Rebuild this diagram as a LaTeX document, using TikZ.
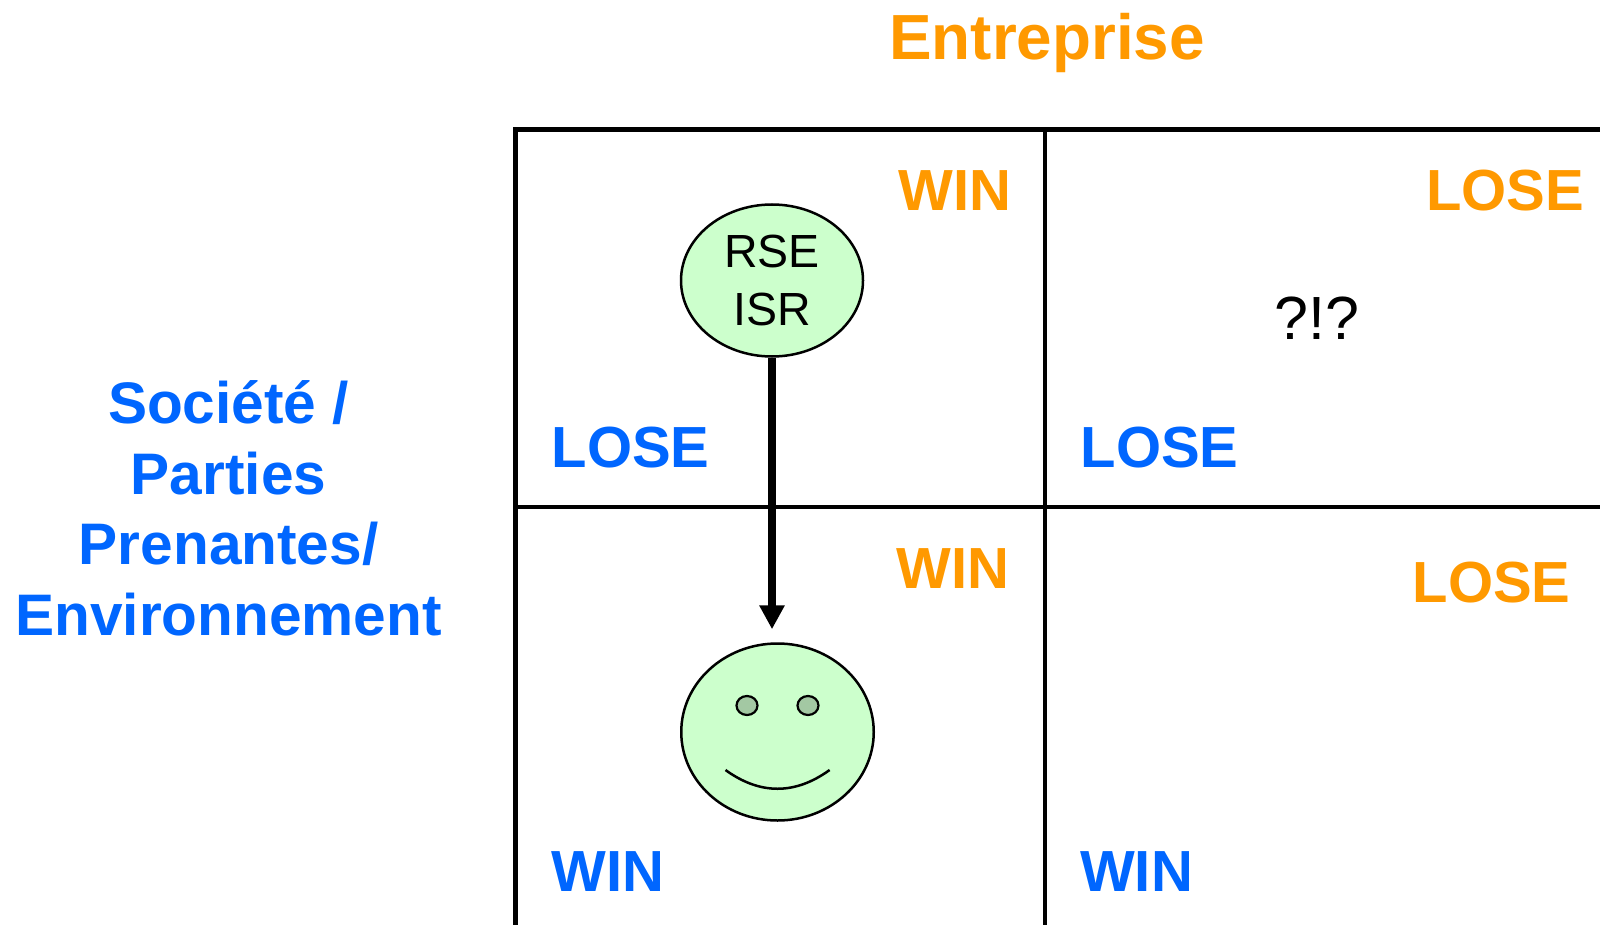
\documentclass[tikz,border=0pt]{standalone}
\usepackage{fontspec}
\setmainfont{Liberation Sans}
\usetikzlibrary{arrows.meta,shapes.geometric}
\definecolor{firmorange}{HTML}{FF9900}
\definecolor{socblue}{HTML}{0066FF}
\definecolor{facegreen}{HTML}{CCFFCC}
\definecolor{eyegreen}{HTML}{A3C8A3}
\tikzset{
  gridline/.style={black,line width=4.5pt},
  firmtext/.style={firmorange,inner sep=0pt,anchor=base west,font=\bfseries\fontsize{58}{60}\selectfont},
  soctext/.style={socblue,inner sep=0pt,anchor=base west,font=\bfseries\fontsize{58}{60}\selectfont},
  headtext/.style={inner sep=0pt,anchor=base,font=\bfseries\fontsize{58.6}{70.5}\selectfont},
  blob/.style={ellipse,draw=black,line width=2.5pt,fill=facegreen,inner sep=0pt},
  eye/.style={ellipse,draw=black,line width=2.2pt,fill=eyegreen,minimum width=21pt,minimum height=19pt,inner sep=0pt},
}
\begin{document}
\begin{tikzpicture}[x=1pt,y=-1pt]
\useasboundingbox (0,0) rectangle (1600,925);
% grid
\draw[gridline] (515.5,925) -- (515.5,127.5);
\draw[gridline] (515.5,129.5) -- (1600,129.5);
\draw[gridline,line width=4pt] (1045,129.5) -- (1045,925);
\draw[gridline,line width=4pt] (515.5,507) -- (1600,507);
% titles
\node[headtext,firmorange,font=\bfseries\fontsize{63.8}{70}\selectfont] (firm) at (1047,60) {Entreprise};
\node[headtext,socblue,align=center] (soc) at (228.6,635) {Société /\\Parties\\Prenantes/\\Environnement};
% quadrants
\node[firmtext] (firmA) at (898.5,210.5) {WIN};
\node[firmtext] (firmB) at (1426,210.5) {LOSE};
\node[firmtext] (firmC) at (896.5,588.5) {WIN};
\node[firmtext] (firmD) at (1412.5,602.5) {LOSE};
\node[soctext] (socA) at (551.5,467) {LOSE};
\node[soctext] (socB) at (1080.5,467.5) {LOSE};
\node[soctext] (socC) at (551.5,891) {WIN};
\node[soctext] (socD) at (1080,891) {WIN};
\node[inner sep=0pt,anchor=base,font=\fontsize{61}{60}\selectfont] (what) at (1317,339) {?!?};
% blobs
\node[blob,minimum width=182pt,minimum height=152pt,align=center,font=\fontsize{46.5}{58}\selectfont] (rse) at (772,280.5) {RSE\\ISR};
\node[blob,minimum width=192.5pt,minimum height=177pt] (face) at (777.5,732) {};
\node[eye] (eyeL) at (747,705.5) {};
\node[eye] (eyeR) at (808,705.5) {};
\draw[black,line width=2.5pt] (725.5,770) .. controls (760,795) and (795,795) .. (829.6,770);
\draw[-{Triangle[length=24pt,width=24pt]},black,line width=7.5pt,shorten >=13pt] (rse.south) -- (rse.south |- face.north);
\end{tikzpicture}
\end{document}
